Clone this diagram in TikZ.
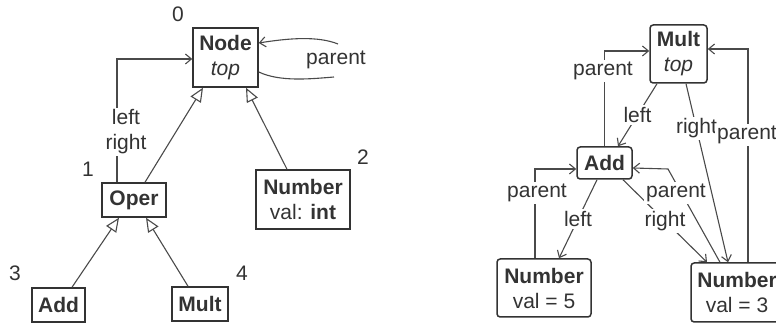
\documentclass[tikz,border=0pt]{standalone}
\usepackage{fontspec}
\setmainfont{Liberation Sans}
\usetikzlibrary{arrows.meta}
\definecolor{ink}{HTML}{333333}
\definecolor{wire}{HTML}{4A4A4A}
\begin{document}
\begin{tikzpicture}[x=0.5pt,y=-0.5pt,
  every node/.style={font=\fontsize{10.5}{12.5}\selectfont, text=ink},
  cls/.style={draw=ink, line width=0.75pt, inner sep=0pt, align=center},
  obj/.style={cls, rounded corners=1.6pt},
  lbl/.style={fill=white, inner sep=1pt, align=center},
  num/.style={inner sep=0pt},
  wirel/.style={draw=wire, line width=0.55pt},
  ref/.style={wirel, -{Straight Barb[length=3pt,width=5pt]}},
  inh/.style={wirel, -{Triangle[open,length=7pt,width=6pt]}}
]
\useasboundingbox (0,0) rectangle (776,324);

% ---------- left: class diagram ----------
\node[cls, minimum width=32.5pt, minimum height=29.5pt] (N0) at (225.5,57.5)
  {\textbf{Node}\\\textit{top}};
\node[cls, minimum width=32pt, minimum height=17pt] (Oper) at (134,200) {\textbf{Oper}};
\node[cls, minimum width=47pt, minimum height=29.5pt] (Num) at (303,199.5)
  {\textbf{Number}\\val: \textbf{int}};
\node[cls, minimum width=26.5pt, minimum height=17pt] (AddC) at (58.5,305) {\textbf{Add}};
\node[cls, minimum width=28pt, minimum height=17pt] (MultC) at (200,304) {\textbf{Mult}};

\node[num] (n0) at (178,14) {0};
\node[num] (n1) at (88,169) {1};
\node[num] (n2) at (363,157) {2};
\node[num] (n3) at (15,273) {3};
\node[num] (n4) at (242,273) {4};

\draw[inh] ([xshift=5.5pt]Oper.north) -- ([xshift=-11.25pt]N0.south);
\draw[inh] ([xshift=-8pt]Num.north) -- ([xshift=10.25pt]N0.south);
\draw[inh] ([xshift=6.75pt]AddC.north) -- ([xshift=-7.5pt]Oper.south);
\draw[inh] ([xshift=-6pt]MultC.north) -- ([xshift=6pt]Oper.south);

\draw[ref] ([xshift=-8.5pt]Oper.north) |- ([yshift=-0.75pt]N0.west);
\node[lbl] (lr) at (126,132) {left\\right};

\coordinate (pl1) at (334,77);
\coordinate (pl2) at (338,44);
\draw[wirel] ([yshift=-7.25pt]N0.east) .. controls (280,82) and (310,79) .. (pl1);
\draw[ref] (pl2) .. controls (318,36) and (290,38) .. ([yshift=7.25pt]N0.east);
\node[lbl] (pl) at (336,60) {parent};

% ---------- right: object diagram ----------
\node[obj, minimum width=28.5pt, minimum height=29pt] (RMult) at (678.5,54)
  {\textbf{Mult}\\\textit{top}};
\node[obj, minimum width=27.5pt, minimum height=16pt] (RAdd) at (604.5,163) {\textbf{Add}};
\node[obj, minimum width=47pt, minimum height=29pt] (N5) at (544,288)
  {\textbf{Number}\\val = 5};
\node[obj, minimum width=46pt, minimum height=29.5pt] (N3) at (737,292.5)
  {\textbf{Number}\\val = 3};

% Mult -> Add (left), Mult -> Number (right)
\draw[ref] ([xshift=-10.75pt]RMult.south) -- node[lbl] {left} ([xshift=6.75pt]RAdd.north);
\draw[ref] ([xshift=3.75pt]RMult.south) -- node[lbl, pos=0.25] {right} ([xshift=-4.5pt]N3.north);

% Add -> Number5 (left), Add -> Number3 (right)
\draw[ref] ([xshift=-3.75pt]RAdd.south) -- node[lbl] {left} ([xshift=7.5pt]N5.north);
\draw[ref] ([xshift=9.25pt]RAdd.south) -- node[lbl] {right} ([xshift=-15pt]N3.north);

% parent links
\draw[ref] (RAdd.north) |- ([yshift=1.5pt]RMult.west);
\node[lbl] (pa1) at (603,71) {parent};

\draw[ref] ([xshift=5.5pt]N3.north) |- ([yshift=2.5pt]RMult.east);
\node[lbl] (pa2) at (747,135) {parent};

\draw[ref] ([xshift=-4.5pt]N5.north) |- ([yshift=-3pt]RAdd.west);
\node[lbl] (pa3) at (537,193) {parent};

\coordinate (bend) at (668,169);
\draw[ref] ([xshift=-8.5pt]N3.north) -- (bend) -- ([yshift=-2.5pt]RAdd.east);
\node[lbl] (pa4) at (676,193) {parent};
\end{tikzpicture}
\end{document}
